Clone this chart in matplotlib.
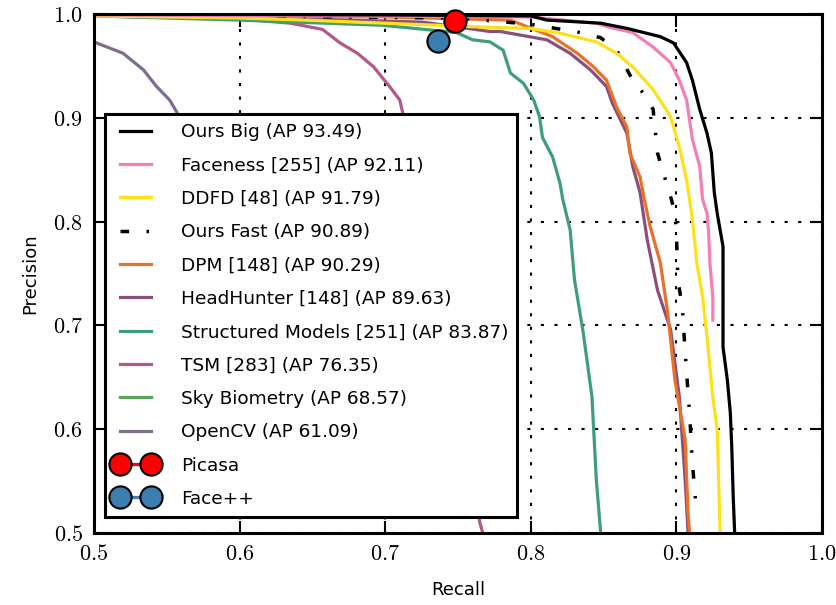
import numpy as np
import matplotlib
matplotlib.use("Agg")
import matplotlib.pyplot as plt

plt.rcParams['mathtext.fontset'] = 'cm'
plt.rcParams['font.family'] = 'DejaVu Sans'

# Precision-recall curves
ours_big_r = [0.50, 0.70, 0.80, 0.811, 0.848, 0.866, 0.889, 0.898, 0.907, 0.911, 0.916, 0.921,
              0.924, 0.926, 0.928, 0.932, 0.932, 0.935, 0.937, 0.938, 0.939, 0.940]
ours_big_p = [1.0, 0.999, 0.998, 0.994, 0.991, 0.986, 0.978, 0.972, 0.953, 0.936, 0.908, 0.885,
              0.866, 0.828, 0.808, 0.776, 0.679, 0.647, 0.616, 0.583, 0.535, 0.50]

faceness_r = [0.50, 0.80, 0.845, 0.854, 0.870, 0.884, 0.896, 0.902, 0.907, 0.911, 0.916, 0.918,
              0.921, 0.922, 0.923, 0.925, 0.925]
faceness_p = [0.999, 0.997, 0.991, 0.987, 0.982, 0.968, 0.953, 0.936, 0.917, 0.879, 0.853, 0.821,
              0.808, 0.792, 0.760, 0.727, 0.705]

ddfd_r = [0.50, 0.60, 0.644, 0.70, 0.772, 0.799, 0.818, 0.845, 0.859, 0.870, 0.884, 0.896, 0.902,
          0.907, 0.911, 0.914, 0.918, 0.921, 0.925, 0.928, 0.929, 0.930]
ddfd_p = [0.998, 0.996, 0.994, 0.991, 0.987, 0.986, 0.982, 0.973, 0.962, 0.949, 0.927, 0.901, 0.872,
          0.840, 0.802, 0.760, 0.727, 0.689, 0.631, 0.599, 0.551, 0.50]

ours_fast_r = [0.50, 0.75, 0.80, 0.834, 0.848, 0.859, 0.870, 0.877, 0.884, 0.887, 0.891, 0.896,
               0.899, 0.900, 0.901, 0.904, 0.905, 0.907, 0.909, 0.911, 0.914]
ours_fast_p = [0.999, 0.996, 0.990, 0.982, 0.977, 0.965, 0.936, 0.924, 0.908, 0.866, 0.847, 0.824,
               0.808, 0.789, 0.744, 0.718, 0.696, 0.654, 0.616, 0.567, 0.517]

dpm_r = [0.50, 0.70, 0.786, 0.815, 0.832, 0.843, 0.852, 0.859, 0.866, 0.868, 0.875, 0.878, 0.882,
         0.889, 0.894, 0.899, 0.906, 0.908, 0.909]
dpm_p = [0.999, 0.997, 0.994, 0.978, 0.962, 0.949, 0.936, 0.910, 0.891, 0.866, 0.843, 0.821, 0.795,
         0.760, 0.712, 0.647, 0.590, 0.519, 0.50]

headhunter_r = [0.50, 0.60, 0.726, 0.772, 0.779, 0.811, 0.827, 0.841, 0.852, 0.856, 0.866, 0.870,
                0.875, 0.880, 0.887, 0.896, 0.902, 0.906, 0.908]
headhunter_p = [0.999, 0.997, 0.992, 0.983, 0.983, 0.975, 0.962, 0.946, 0.930, 0.914, 0.885, 0.853,
                0.828, 0.782, 0.734, 0.696, 0.631, 0.551, 0.50]

structured_r = [0.50, 0.60, 0.698, 0.749, 0.760, 0.772, 0.781, 0.786, 0.795, 0.802, 0.806, 0.808,
                0.815, 0.820, 0.822, 0.827, 0.830, 0.836, 0.842, 0.845, 0.848]
structured_p = [0.998, 0.994, 0.989, 0.982, 0.975, 0.973, 0.965, 0.943, 0.933, 0.917, 0.901, 0.881,
                0.862, 0.837, 0.821, 0.792, 0.744, 0.693, 0.631, 0.551, 0.50]

tsm_r = [0.50, 0.60, 0.635, 0.657, 0.669, 0.681, 0.692, 0.703, 0.710, 0.712, 0.73, 0.75, 0.765, 0.767]
tsm_p = [0.998, 0.995, 0.991, 0.985, 0.972, 0.962, 0.949, 0.930, 0.917, 0.905, 0.80, 0.65, 0.51, 0.50]

sky_r = [0.52, 0.55, 0.60, 0.65, 0.70]
sky_p = [0.88, 0.84, 0.76, 0.66, 0.56]

opencv_r = [0.50, 0.520, 0.534, 0.543, 0.552, 0.557, 0.58, 0.62]
opencv_p = [0.973, 0.962, 0.946, 0.930, 0.917, 0.905, 0.82, 0.65]

picasa = (0.748, 0.993)
facepp = (0.736, 0.974)

xticks = [0.5, 0.6, 0.7, 0.8, 0.9, 1.0]
yticks = [0.5, 0.6, 0.7, 0.8, 0.9, 1.0]

fig = plt.figure(figsize=(8.36, 6.05), dpi=100)
ax = fig.add_axes([0.1124, 0.119, 0.8709, 0.8581])

lw = 2.3
ax.plot(opencv_r, opencv_p, color='#7f6d8e', lw=lw, label='OpenCV (AP 61.09)', zorder=2)
ax.plot(sky_r, sky_p, color='#5aa55a', lw=lw, label='Sky Biometry (AP 68.57)', zorder=2)
ax.plot(tsm_r, tsm_p, color='#b2588b', lw=lw, label='TSM [283] (AP 76.35)', zorder=2)
ax.plot(structured_r, structured_p, color='#3f9e78', lw=lw, label='Structured Models [251] (AP 83.87)', zorder=2)
ax.plot(headhunter_r, headhunter_p, color='#8b4f7b', lw=lw, label='HeadHunter [148] (AP 89.63)', zorder=2)
ax.plot(dpm_r, dpm_p, color='#e8712b', lw=lw, label='DPM [148] (AP 90.29)', zorder=2)
ax.plot(ours_fast_r, ours_fast_p, color='black', lw=2.5, ls=(0, (2.5, 5, 0.7, 5)),
        label='Ours Fast (AP 90.89)', zorder=2)
ax.plot(ddfd_r, ddfd_p, color='#ffe11a', lw=lw, label='DDFD [48] (AP 91.79)', zorder=2)
ax.plot(faceness_r, faceness_p, color='#f47fb6', lw=lw, label='Faceness [255] (AP 92.11)', zorder=2)
ax.plot(ours_big_r, ours_big_p, color='black', lw=lw, label='Ours Big (AP 93.49)', zorder=2)

ax.plot([picasa[0]], [picasa[1]], '-o', color='#ff0000', lw=lw, ms=16, mec='black', mew=1.5,
        label='Picasa', clip_on=False, zorder=5)
ax.plot([facepp[0]], [facepp[1]], '-o', color='#3a7fb0', lw=lw, ms=16, mec='black', mew=1.5,
        label='Face++', clip_on=False, zorder=5)

ax.set_xlim(0.5, 1.0)
ax.set_ylim(0.5, 1.0)
ax.set_xticks(xticks)
ax.set_yticks(yticks)
ax.set_xticklabels([f'${v:.1f}$' for v in xticks], fontsize=16)
ax.set_yticklabels([f'${v:.1f}$' for v in yticks], fontsize=16)
ax.tick_params(direction='in', length=9, width=1.5, top=True, right=True, pad=8)
for s in ax.spines.values():
    s.set_linewidth(2.2)

ax.grid(True, color='black', lw=1.5, ls=(0, (1.5, 5)))
ax.set_axisbelow(True)

ax.set_xlabel('Recall', fontsize=13, labelpad=12)
ax.set_ylabel('Precision', fontsize=13, labelpad=10)

order = ['Ours Big (AP 93.49)', 'Faceness [255] (AP 92.11)', 'DDFD [48] (AP 91.79)',
         'Ours Fast (AP 90.89)', 'DPM [148] (AP 90.29)', 'HeadHunter [148] (AP 89.63)',
         'Structured Models [251] (AP 83.87)', 'TSM [283] (AP 76.35)',
         'Sky Biometry (AP 68.57)', 'OpenCV (AP 61.09)', 'Picasa', 'Face++']
handles, labels = ax.get_legend_handles_labels()
hmap = dict(zip(labels, handles))
leg = ax.legend([hmap[l] for l in order], order, loc='upper left',
                bbox_to_anchor=(0.0151, 0.807), fontsize=13.3, numpoints=2,
                handlelength=2.3, handletextpad=1.3, labelspacing=0.83,
                borderpad=0.5, borderaxespad=0, fancybox=False, framealpha=1,
                edgecolor='black')
leg.get_frame().set_linewidth(2.2)
leg.set_zorder(10)

fig.savefig('out.png', dpi=100)
